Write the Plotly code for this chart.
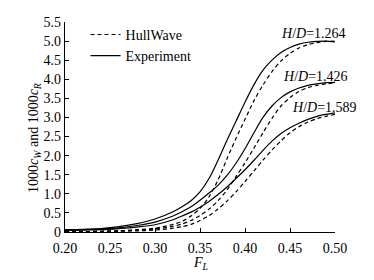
import plotly.graph_objects as go

F = [0.20, 0.22, 0.24, 0.26, 0.28, 0.30, 0.32, 0.33, 0.34, 0.35, 0.36, 0.37, 0.38, 0.39,
     0.40, 0.41, 0.42, 0.43, 0.44, 0.45, 0.46, 0.47, 0.48, 0.49, 0.50]

exp_1264 = [0.06, 0.07, 0.09, 0.14, 0.22, 0.34, 0.53, 0.66, 0.82, 1.05, 1.40, 1.88, 2.40, 2.90,
            3.40, 3.86, 4.24, 4.50, 4.70, 4.83, 4.92, 4.97, 4.99, 5.00, 4.98]
hw_1264 = [0.01, 0.01, 0.02, 0.03, 0.06, 0.10, 0.20, 0.28, 0.42, 0.62, 0.92, 1.36, 1.92, 2.45,
           2.95, 3.44, 3.85, 4.20, 4.48, 4.68, 4.82, 4.91, 4.96, 4.99, 5.00]
exp_1426 = [0.05, 0.06, 0.08, 0.11, 0.17, 0.26, 0.42, 0.53, 0.66, 0.83, 1.02, 1.22, 1.48, 1.80,
            2.18, 2.60, 3.00, 3.30, 3.52, 3.67, 3.77, 3.84, 3.88, 3.91, 3.92]
hw_1426 = [0.01, 0.01, 0.02, 0.03, 0.05, 0.08, 0.15, 0.21, 0.30, 0.43, 0.60, 0.82, 1.10, 1.45,
           1.81, 2.20, 2.60, 2.98, 3.30, 3.52, 3.68, 3.78, 3.84, 3.88, 3.90]
exp_1589 = [0.04, 0.05, 0.06, 0.09, 0.13, 0.19, 0.32, 0.42, 0.52, 0.65, 0.80, 0.98, 1.18, 1.40,
            1.63, 1.88, 2.14, 2.38, 2.58, 2.73, 2.85, 2.95, 3.03, 3.08, 3.12]
hw_1589 = [0.00, 0.01, 0.01, 0.02, 0.03, 0.05, 0.10, 0.14, 0.20, 0.30, 0.43, 0.60, 0.81, 1.05,
           1.32, 1.60, 1.88, 2.15, 2.39, 2.60, 2.76, 2.88, 2.97, 3.03, 3.08]

labels = ["<i>H</i>/<i>D</i>=1.264", "<i>H</i>/<i>D</i>=1.426", "<i>H</i>/<i>D</i>=1.589"]
label_pos = [(0.4756, 5.20), (0.4778, 4.08), (0.4878, 3.27)]

x_ticks = [0.20, 0.25, 0.30, 0.35, 0.40, 0.45, 0.50]
x_ticktext = ["0.20", "0.25", "0.30", "0.35", "0.40", "0.45", "0.50"]
y_ticks = [0, 0.5, 1.0, 1.5, 2.0, 2.5, 3.0, 3.5, 4.0, 4.5, 5.0, 5.5]
y_ticktext = ["0", "0.5", "1.0", "1.5", "2.0", "2.5", "3.0", "3.5", "4.0", "4.5", "5.0", "5.5"]

FONT = "Liberation Serif"
fig = go.Figure()

hw_series = [hw_1264, hw_1426, hw_1589]
exp_series = [exp_1264, exp_1426, exp_1589]
for i, ys in enumerate(hw_series):
    fig.add_trace(go.Scatter(x=F, y=ys, mode="lines", name="HullWave",
                             line=dict(color="black", width=1.2, dash="4px,3px", shape="spline", smoothing=0.8),
                             showlegend=(i == 0), legendrank=1))
for i, ys in enumerate(exp_series):
    fig.add_trace(go.Scatter(x=F, y=ys, mode="lines", name="Experiment",
                             line=dict(color="black", width=1.2, shape="spline", smoothing=0.8),
                             showlegend=(i == 0), legendrank=2))

for txt, (lx, ly) in zip(labels, label_pos):
    fig.add_annotation(x=lx, y=ly, text=txt, showarrow=False,
                       font=dict(family=FONT, size=14, color="black"))

# axis titles
fig.add_annotation(xref="paper", yref="paper", x=-0.152, y=0.45, textangle=-90,
                   text="1000<i>c</i><sub><i>W</i></sub> and 1000<i>c</i><sub><i>R</i></sub>",
                   showarrow=False, font=dict(family=FONT, size=14, color="black"))
fig.add_annotation(xref="paper", yref="paper", x=0.5, y=-0.152, yanchor="middle",
                   text="<i>F</i><sub><i>L</i></sub>",
                   showarrow=False, font=dict(family=FONT, size=14, color="black"))

# the page body has an 8px margin, so the figure is sized to fit inside it
fig.update_layout(
    width=358, height=264,
    margin=dict(l=57, r=31, t=13, b=40),
    paper_bgcolor="white", plot_bgcolor="white",
    font=dict(family=FONT, size=14, color="black"),
    showlegend=True,
    legend=dict(x=0.076, y=1.01, xanchor="left", yanchor="top",
                bgcolor="rgba(0,0,0,0)", font=dict(family=FONT, size=14),
                tracegroupgap=0, itemwidth=30),
)
fig.update_xaxes(range=[0.20, 0.50], tickvals=x_ticks, ticktext=x_ticktext, automargin=False,
                 showgrid=False, zeroline=False, showline=True, linecolor="black", linewidth=1.2,
                 ticks="inside", ticklen=4, tickcolor="black", ticklabelstandoff=3,
                 tickfont=dict(family=FONT, size=14))
fig.update_yaxes(range=[0, 5.5], tickvals=y_ticks, ticktext=y_ticktext, automargin=False,
                 showgrid=False, zeroline=False, showline=True, linecolor="black", linewidth=1.2,
                 ticks="inside", ticklen=4, tickcolor="black", ticklabelstandoff=0,
                 tickfont=dict(family=FONT, size=14))

fig.write_html("out.html")
